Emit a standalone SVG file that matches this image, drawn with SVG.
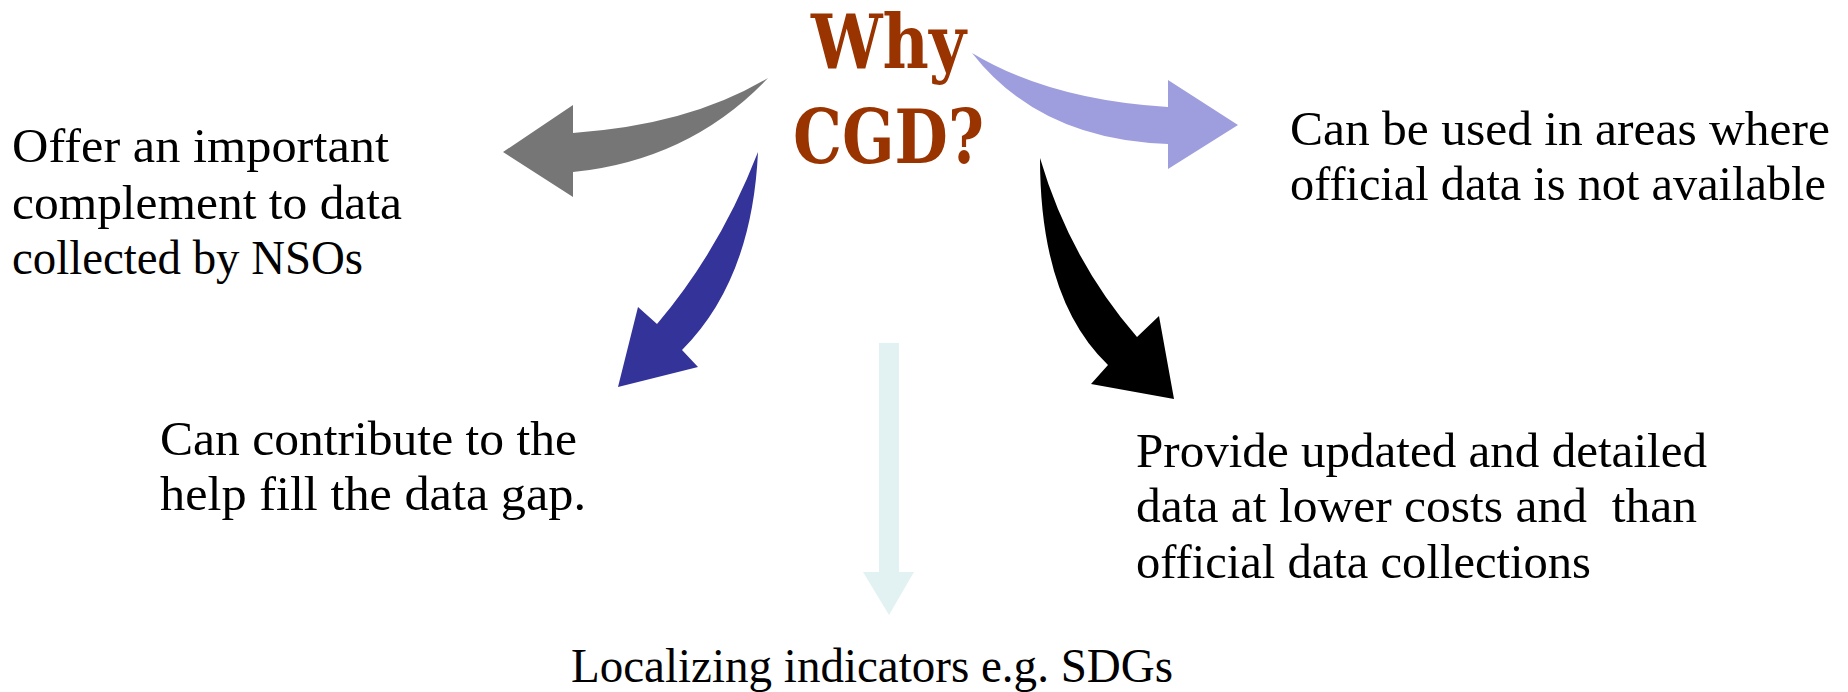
<svg xmlns="http://www.w3.org/2000/svg" width="1848" height="692" viewBox="0 0 1848 692">
<style>
.t{font-family:"Liberation Serif","Times New Roman",serif;font-size:48px;fill:#000}
.title{font-family:"DejaVu Serif","Liberation Serif",serif;font-weight:bold;font-size:75px;fill:#993300}
</style>
<rect width="1848" height="692" fill="#fff"/>
<g id="connectors">
<path id="arrow-gray" fill="#767676" d="M768,78 Q690,125 573,133 L573,105 L503,152 L573,197 L573,172 Q690,160 768,78 Z"/>
<path id="arrow-lavender" fill="#9E9EDE" d="M972,53 Q1050,100 1168,107 L1168,80 L1238,125 L1168,169 L1168,144 Q1040,140 972,53 Z"/>
<path id="arrow-blue" fill="#333399" d="M758,152 Q752,280 682,350 L698,367 L618,387 L638,307 L657,324 Q720,250 758,152 Z"/>
<path id="arrow-black" fill="#000" d="M1040,158 Q1040,300 1108,365 L1091,384 L1174,399 L1159,316 L1137,337 Q1070,260 1040,158 Z"/>
<path id="arrow-cyan" fill="#E2F2F3" d="M879,343 L899,343 L899,572 L914,572 L889,615 L863,572 L879,572 Z"/>
</g>
<g id="title">
<text class="title" x="811" y="68" textLength="155" lengthAdjust="spacingAndGlyphs">Why</text>
<text class="title" x="793" y="163" textLength="191" lengthAdjust="spacingAndGlyphs">CGD?</text>
</g>
<g id="node-complement">
<text class="t" x="12" y="162" textLength="377" lengthAdjust="spacingAndGlyphs">Offer an important</text>
<text class="t" x="12" y="219" textLength="390" lengthAdjust="spacingAndGlyphs">complement to data</text>
<text class="t" x="12" y="274" textLength="351" lengthAdjust="spacingAndGlyphs">collected by NSOs</text>
</g>
<g id="node-areas">
<text class="t" x="1290" y="145" textLength="540" lengthAdjust="spacingAndGlyphs">Can be used in areas where</text>
<text class="t" x="1290" y="200" textLength="536" lengthAdjust="spacingAndGlyphs">official data is not available</text>
</g>
<g id="node-gap">
<text class="t" x="160" y="455" textLength="417" lengthAdjust="spacingAndGlyphs">Can contribute to the</text>
<text class="t" x="160" y="510" textLength="426" lengthAdjust="spacingAndGlyphs">help fill the data gap.</text>
</g>
<g id="node-updated">
<text class="t" x="1136" y="467" textLength="571" lengthAdjust="spacingAndGlyphs">Provide updated and detailed</text>
<text class="t" x="1136" y="522" textLength="561" lengthAdjust="spacingAndGlyphs" xml:space="preserve" style="white-space:pre">data at lower costs and  than</text>
<text class="t" x="1136" y="578" textLength="455" lengthAdjust="spacingAndGlyphs">official data collections</text>
</g>
<g id="node-localizing">
<text class="t" x="571" y="682" textLength="602" lengthAdjust="spacingAndGlyphs">Localizing indicators e.g. SDGs</text>
</g>
</svg>
